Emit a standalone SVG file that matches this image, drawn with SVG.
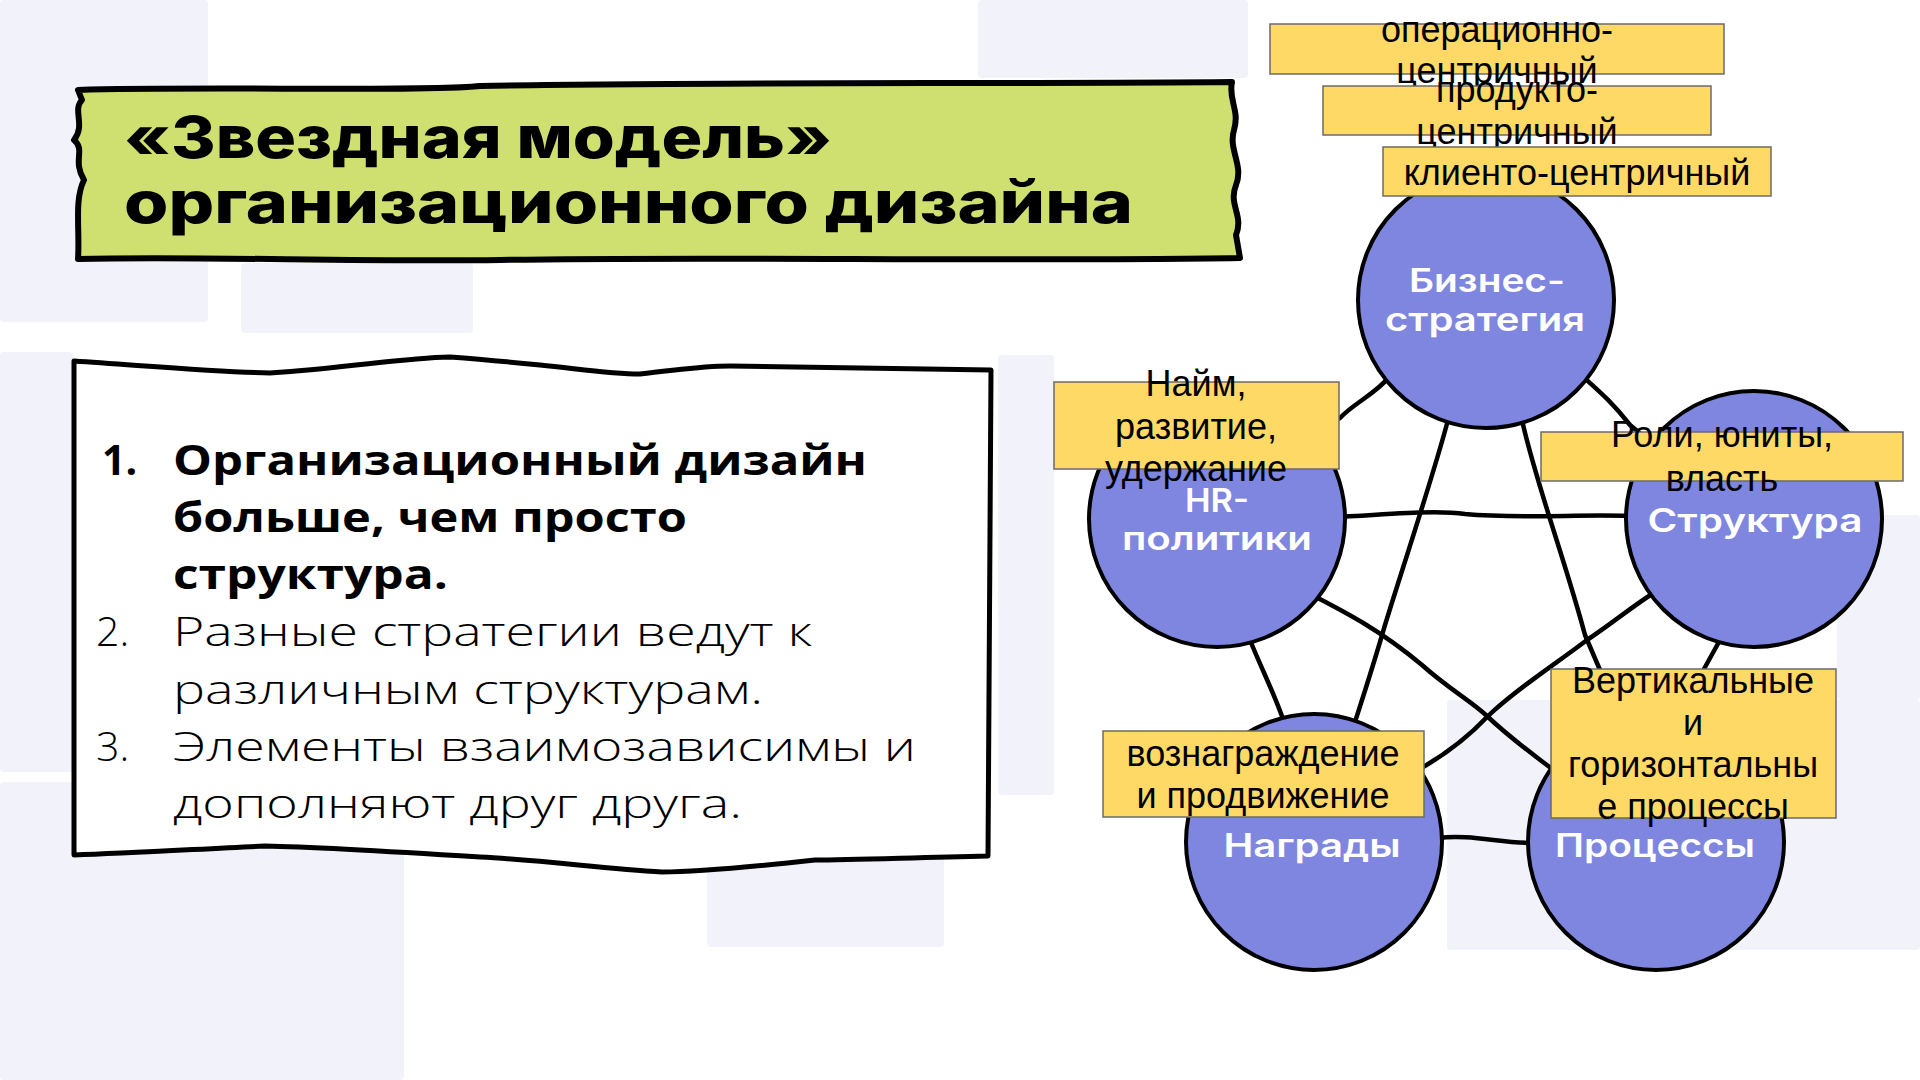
<svg xmlns="http://www.w3.org/2000/svg" width="1920" height="1080" viewBox="0 0 1920 1080">
<style>
.bg{fill:#F2F2FB}
.node circle{fill:#7F86DF;stroke:#000;stroke-width:4}
.ntext{font-family:Inter,"Noto Sans",sans-serif;font-weight:600;font-size:32px;fill:#fff;text-anchor:middle}
.conn path{fill:none;stroke:#000;stroke-width:4.5;stroke-linecap:round;stroke-linejoin:round}
.lab rect{fill:#FFD966;stroke:#6b6b6b;stroke-width:1.5}
.ltext{font-family:"Liberation Sans",Arial,sans-serif;font-size:36px;fill:#000;text-anchor:middle}
.title{font-family:Inter,"Noto Sans",sans-serif;font-weight:800;font-size:58px;fill:#000}
.lb{font-family:"Open Sans","Noto Sans",sans-serif;font-weight:700;font-size:41px;fill:#000}
.ll{font-family:"Open Sans","Noto Sans",sans-serif;font-weight:300;font-size:41px;fill:#000}
</style>
<rect width="1920" height="1080" fill="#fff"/>
<g id="background">
<rect class="bg" x="0" y="0" width="208" height="322" rx="4"/>
<rect class="bg" x="241" y="263" width="232" height="70" rx="4"/>
<rect class="bg" x="978" y="0" width="270" height="78" rx="4"/>
<rect class="bg" x="0" y="352" width="73" height="420" rx="4"/>
<rect class="bg" x="0" y="782" width="404" height="298" rx="4"/>
<rect class="bg" x="707" y="855" width="237" height="92" rx="4"/>
<rect class="bg" x="1447" y="700" width="473" height="250" rx="4"/>
<rect class="bg" x="1837" y="515" width="83" height="185" rx="4"/>
<rect class="bg" x="998" y="355" width="56" height="440" rx="4"/>
</g>
<g id="title">
<path d="M78,90 C200,86 420,92 480,86 C700,82 1000,84 1232,82 C1228,100 1240,110 1234,130 C1228,150 1244,165 1236,185 C1228,205 1244,215 1236,235 L1240,258 C1000,262 700,256 500,260 C350,262 200,256 78,259 C80,230 74,200 84,180 C72,160 86,150 74,140 C86,125 72,110 82,100 Z" fill="#CFE070" stroke="#000" stroke-width="6" stroke-linejoin="round"/>
<text class="title" x="124" y="158" textLength="708" lengthAdjust="spacingAndGlyphs">«Звездная модель»</text>
<text class="title" x="124" y="223" textLength="1009" lengthAdjust="spacingAndGlyphs">организационного дизайна</text>
</g>
<g id="textbox">
<path d="M74,361 C150,366 220,372 270,373 C350,368 400,358 450,357 C490,360 520,363 540,365 C580,369 610,374 640,374 C680,370 700,366 730,366 C850,368 930,369 991,370 L988,856 C900,858 850,860 815,860 C760,866 700,872 662,872 C600,868 540,860 480,857 C400,852 320,847 265,846 C200,849 130,853 74,855 Z" fill="#fff" stroke="#000" stroke-width="5" stroke-linejoin="round"/>
<text class="lb" x="102" y="475">1.</text>
<text class="lb" x="173" y="475" textLength="694" lengthAdjust="spacingAndGlyphs">Организационный дизайн</text>
<text class="lb" x="173" y="532" textLength="514" lengthAdjust="spacingAndGlyphs">больше, чем просто</text>
<text class="lb" x="173" y="589" textLength="275" lengthAdjust="spacingAndGlyphs">структура.</text>
<text class="ll" x="96" y="646">2.</text>
<text class="ll" x="173" y="646" textLength="639" lengthAdjust="spacingAndGlyphs">Разные стратегии ведут к</text>
<text class="ll" x="173" y="704" textLength="590" lengthAdjust="spacingAndGlyphs">различным структурам.</text>
<text class="ll" x="96" y="761">3.</text>
<text class="ll" x="173" y="761" textLength="743" lengthAdjust="spacingAndGlyphs">Элементы взаимозависимы и</text>
<text class="ll" x="173" y="818" textLength="569" lengthAdjust="spacingAndGlyphs">дополняют друг друга.</text>
</g>
<g id="connectors" class="conn">
<path d="M1392,374 C1375,395 1355,402 1340,418 L1300,440"/>
<path d="M1580,374 C1600,392 1612,402 1630,425 L1660,450"/>
<path d="M1340,517 C1400,513 1440,510 1465,514 C1520,519 1580,514 1630,516"/>
<path d="M1448,420 C1432,480 1405,560 1385,625 C1372,670 1362,700 1354,725"/>
<path d="M1522,420 C1535,480 1565,560 1585,635 L1600,670 L1612,730"/>
<path d="M1250,640 C1262,670 1275,695 1284,722"/>
<path d="M1314,596 C1345,612 1380,630 1422,665 C1450,690 1470,700 1487,716 C1510,738 1530,752 1556,772"/>
<path d="M1655,592 C1630,608 1610,625 1587,640 C1550,668 1515,690 1487,717 C1470,735 1450,752 1418,770"/>
<path d="M1720,640 L1704,669 L1690,720"/>
<path d="M1438,838 C1470,834 1500,843 1532,843"/>
</g>
<g id="node-biz" class="node"><circle cx="1486" cy="300" r="128"/><text class="ntext" x="1487" y="292" textLength="156" lengthAdjust="spacingAndGlyphs">Бизнес-</text><text class="ntext" x="1485" y="331" textLength="200" lengthAdjust="spacingAndGlyphs">стратегия</text></g>
<g id="node-hr" class="node"><circle cx="1217" cy="519" r="128"/><text class="ntext" x="1217" y="512" textLength="64" lengthAdjust="spacingAndGlyphs">HR-</text><text class="ntext" x="1217" y="550" textLength="190" lengthAdjust="spacingAndGlyphs">политики</text></g>
<g id="node-struct" class="node"><circle cx="1754" cy="519" r="128"/><text class="ntext" x="1755" y="532" textLength="215" lengthAdjust="spacingAndGlyphs">Структура</text></g>
<g id="node-rew" class="node"><circle cx="1314" cy="842" r="128"/><text class="ntext" x="1312" y="857" textLength="177" lengthAdjust="spacingAndGlyphs">Награды</text></g>
<g id="node-proc" class="node"><circle cx="1656" cy="842" r="128"/><text class="ntext" x="1655" y="857" textLength="200" lengthAdjust="spacingAndGlyphs">Процессы</text></g>
<g id="label-op" class="lab"><rect x="1270" y="24" width="454" height="50"/><text class="ltext" x="1497" y="42">операционно-</text><text class="ltext" x="1497" y="83">центричный</text></g>
<g id="label-prod" class="lab"><rect x="1323" y="86" width="388" height="49"/><text class="ltext" x="1517" y="102">продукто-</text><text class="ltext" x="1517" y="144">центричный</text></g>
<g id="label-cli" class="lab"><rect x="1383" y="147" width="388" height="49"/><text class="ltext" x="1577" y="185">клиенто-центричный</text></g>
<g id="label-hr" class="lab"><rect x="1054" y="382" width="285" height="87"/><text class="ltext" x="1196" y="396">Найм,</text><text class="ltext" x="1196" y="439">развитие,</text><text class="ltext" x="1196" y="481">удержание</text></g>
<g id="label-struct" class="lab"><rect x="1541" y="432" width="362" height="49"/><text class="ltext" x="1722" y="447">Роли, юниты,</text><text class="ltext" x="1722" y="491">власть</text></g>
<g id="label-proc" class="lab"><rect x="1551" y="669" width="285" height="149"/><text class="ltext" x="1693" y="693">Вертикальные</text><text class="ltext" x="1693" y="735">и</text><text class="ltext" x="1693" y="777">горизонтальны</text><text class="ltext" x="1693" y="819">е процессы</text></g>
<g id="label-rew" class="lab"><rect x="1103" y="731" width="321" height="86"/><text class="ltext" x="1263" y="766">вознаграждение</text><text class="ltext" x="1263" y="808">и продвижение</text></g>
</svg>
